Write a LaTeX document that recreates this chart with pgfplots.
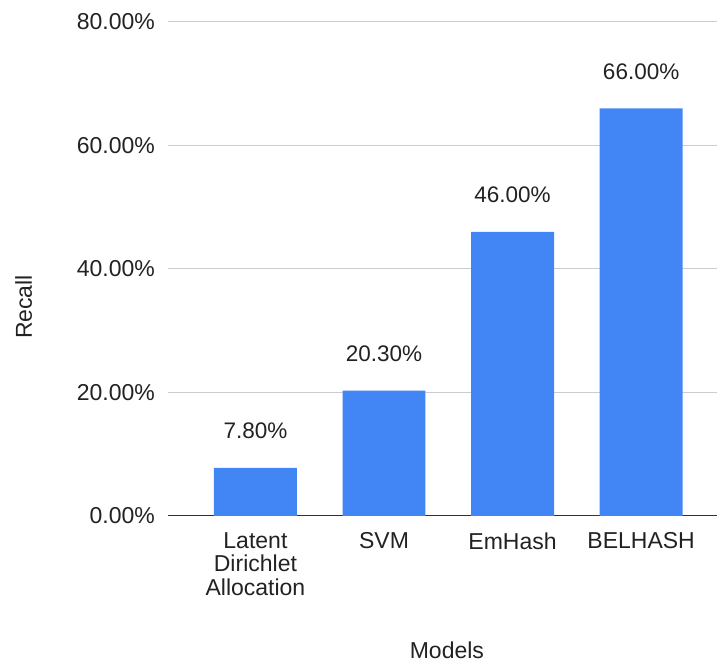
\documentclass[border=0pt]{standalone}
\usepackage{fontspec}
\setmainfont{Liberation Sans}
\usepackage{pgfplots}
\pgfplotsset{compat=1.18}
\definecolor{barblue}{HTML}{4285F4}
\definecolor{gridgray}{HTML}{CCCCCC}
\definecolor{txt}{HTML}{222222}
\newcommand{\lblfont}{\fontsize{23}{23.5}\selectfont}
\begin{document}
\begin{tikzpicture}
\begin{axis}[
  scale only axis,
  width=549pt, height=494pt,
  xmin=-0.68, xmax=3.59,
  ymin=0, ymax=80,
  ybar, bar width=0.645,
  axis x line*=bottom,
  axis y line*=left,
  x axis line style={draw=black!80, line width=1pt},
  y axis line style={draw=none},
  /pgf/number format/assume math mode=true,
  xtick={0,1,2,3},
  xticklabels={{Latent\\Dirichlet\\Allocation},SVM,EmHash,BELHASH},
  xticklabel style={align=center, font=\lblfont, text=txt,
    anchor=north, inner sep=0pt, yshift=-12pt},
  major x tick style={draw=none},
  ytick={0,20,40,60,80},
  yticklabels={0.00\%,20.00\%,40.00\%,60.00\%,80.00\%},
  yticklabel style={font=\lblfont, text=txt, anchor=east, inner sep=0pt, xshift=-13pt},
  ymajorgrids,
  grid style={gridgray, line width=1pt},
  major y tick style={draw=none},
  xlabel={Models},
  ylabel={Recall},
  xlabel style={font=\lblfont, text=txt, at={(axis description cs:0.508,-0.2713)}, anchor=center},
  ylabel style={font=\lblfont, text=txt, at={(axis description cs:-0.263,0.423)}, anchor=center, rotate=0},
  nodes near coords={\pgfmathprintnumber[fixed,fixed zerofill,precision=2]{\pgfplotspointmeta}\%},
  nodes near coords style={font=\fontsize{22.5}{24}\selectfont, text=txt, anchor=south, inner sep=0pt, yshift=29pt},
  clip=false,
]
\addplot[fill=barblue, draw=none] coordinates {(0,7.8) (1,20.3) (2,46.0) (3,66.0)};
\end{axis}
\useasboundingbox ([shift={(-168pt,-148pt)}]current axis.south west)
  rectangle ([shift={(1pt,22pt)}]current axis.north east);
\end{tikzpicture}
\end{document}
